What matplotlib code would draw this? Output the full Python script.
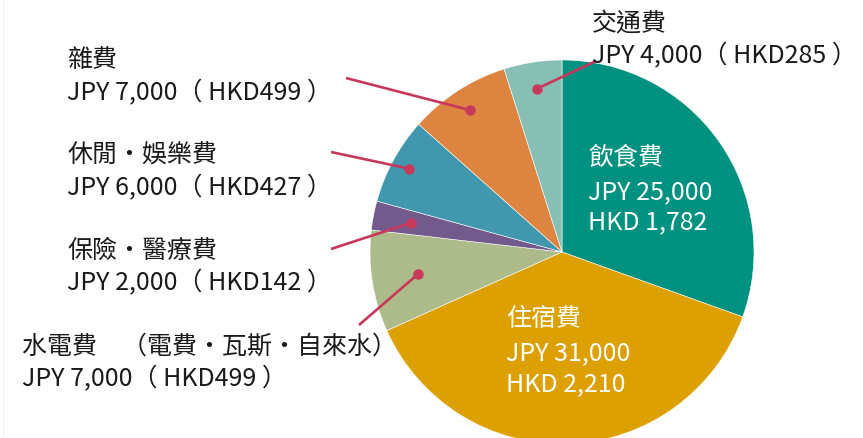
import numpy as np
import matplotlib.pyplot as plt

plt.rcParams['font.family'] = ['Noto Sans CJK TC', 'DejaVu Sans']

# --- data ---
categories = ["飲食費", "住宿費", "水電費", "保險・醫療費", "休閒・娛樂費", "雜費", "交通費"]
jpy = [25000, 31000, 7000, 2000, 6000, 7000, 4000]
hkd = [1782, 2210, 499, 142, 427, 499, 285]
colors = ["#009180", "#DCA000", "#ADBB8B", "#725A8D", "#4198AE", "#DC8440", "#87BFB5"]

W, H = 863, 439
CX, CY, R = 562, 253, 192
LINE = "#C8385A"

fig = plt.figure(figsize=(W / 100, H / 100), dpi=100)
ax = fig.add_axes([0, 0, 1, 1])

# y axis is flipped below, so counterclock=True draws clockwise on screen
wedges, _ = ax.pie(jpy, colors=colors, startangle=-90, counterclock=True,
                   center=(CX, CY), radius=R,
                   wedgeprops=dict(edgecolor="white", linewidth=0.4))
ax.set_xlim(0, W)
ax.set_ylim(H, 0)
ax.set_aspect("equal")
ax.axis("off")

fs = 18

def lbl(x, y, text, color="#1a1a1a"):
    ax.text(x, y, text, fontsize=fs, color=color, ha="left", va="baseline")

# labels inside the big slices
lbl(588, 165, categories[0], "white")
lbl(588, 199, f"JPY {jpy[0]:,}", "white")
lbl(588, 229, f"HKD {hkd[0]:,}", "white")
lbl(506, 326, categories[1], "white")
lbl(506, 360, f"JPY {jpy[1]:,}", "white")
lbl(506, 391, f"HKD {hkd[1]:,}", "white")

# outside labels: (index, text x, first baseline, line start, dot radius fraction)
outside = [
    (5, 67, 68, (346, 79), 0.88),
    (4, 67, 163, (331, 153), 0.91),
    (3, 67, 258, (331, 250), 0.80),
    (2, 22, 354, (359, 326), 0.76),
    (6, 592, 31, (596, 62), 0.86),
]
for i, tx, ty, start, rf in outside:
    title = "水電費　（電費・瓦斯・自來水）" if i == 2 else categories[i]
    lbl(tx, ty, title)
    lbl(tx, ty + 32, f"JPY {jpy[i]:,}（ HKD{hkd[i]} ）")
    w = wedges[i]
    a = np.deg2rad((w.theta1 + w.theta2) / 2)
    dx, dy = CX + R * rf * np.cos(a), CY + R * rf * np.sin(a)
    ax.plot([start[0], dx], [start[1], dy], color=LINE, lw=1.9,
            solid_capstyle="butt")
    ax.plot(dx, dy, "o", color=LINE, ms=6.5)

ax.plot([3, 3], [0, H], color="#EEF5F4", lw=1)

fig.savefig("out.png", dpi=100)
